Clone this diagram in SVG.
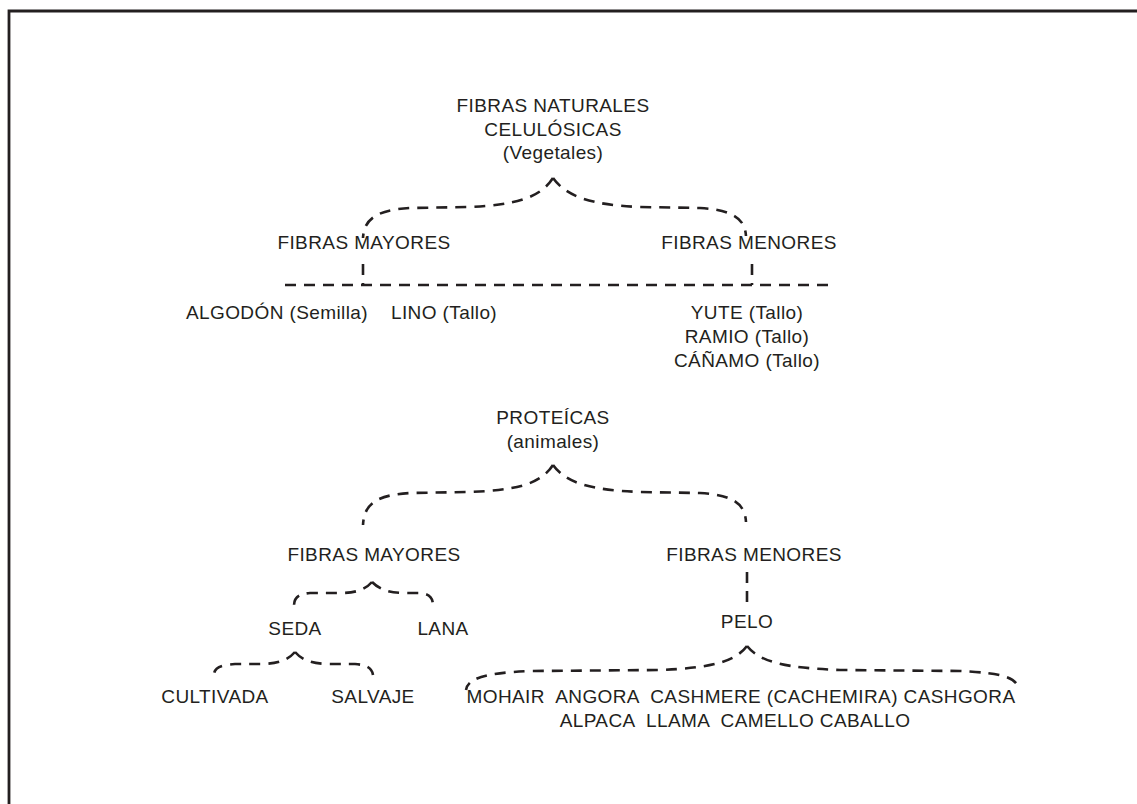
<svg xmlns="http://www.w3.org/2000/svg" width="1137" height="804" viewBox="0 0 1137 804">
<style>
text{font-family:"Liberation Sans",Arial,sans-serif;font-size:19px;fill:#231f20;text-anchor:middle;letter-spacing:0.4px}
.d{fill:none;stroke:#231f20;stroke-width:2.6;stroke-dasharray:11 8}
.frame{fill:none;stroke:#231f20;stroke-width:2.8}
</style>
<rect width="1137" height="804" fill="#fff"/>
<path class="frame" d="M9,804 V11 H1137"/>
<g id="connectors">
<path class="d" d="M553,178 C540,198 515,205 470,207 L410,208 C375,210 364,220 363,238"/>
<path class="d" d="M553,178 C566,196 590,205 640,207 L700,208 C735,210 745,220 746,236"/>
<path class="d" d="M285,285 H836"/>
<path class="d" d="M363,264 V285"/>
<path class="d" d="M752,264 V285"/>
<path class="d" d="M553,465 C540,485 515,490 470,492 L410,493 C375,495 364,505 363,525"/>
<path class="d" d="M553,465 C566,483 590,490 640,492 L700,493 C735,495 745,505 746,522"/>
<path class="d" d="M747,572 V602"/>
<path class="d" d="M372,582 C365,590 355,593 340,593 L310,593 C298,594 294,598 294,606"/>
<path class="d" d="M372,582 C380,590 390,593 405,593 L420,593 C430,594 433,598 433,606"/>
<path class="d" d="M295,652 C288,660 278,664 260,664 L235,664 C220,665 214,668 214,675"/>
<path class="d" d="M295,652 C302,660 312,664 330,664 L355,664 C367,665 372,668 373,675"/>
<path class="d" d="M747,646 C735,662 710,668 660,670 L530,671 C485,673 468,678 466,690"/>
<path class="d" d="M747,646 C760,662 785,668 840,670 L960,671 C1005,673 1017,678 1019,690"/>
</g>
<g id="n-fibras-naturales"><text x="553" y="112">FIBRAS NATURALES</text><text x="553" y="136">CELULÓSICAS</text><text x="553" y="159">(Vegetales)</text></g>
<g id="n-mayores-cel"><text x="364" y="249">FIBRAS MAYORES</text></g>
<g id="n-menores-cel"><text x="749" y="249">FIBRAS MENORES</text></g>
<g id="n-algodon"><text x="277" y="319">ALGODÓN (Semilla)</text></g>
<g id="n-lino"><text x="444" y="319">LINO (Tallo)</text></g>
<g id="n-yute"><text x="747" y="319">YUTE (Tallo)</text><text x="747" y="343">RAMIO (Tallo)</text><text x="747" y="367">CÁÑAMO (Tallo)</text></g>
<g id="n-proteicas"><text x="553" y="424">PROTEÍCAS</text><text x="553" y="448">(animales)</text></g>
<g id="n-mayores-prot"><text x="374" y="561">FIBRAS MAYORES</text></g>
<g id="n-menores-prot"><text x="754" y="561">FIBRAS MENORES</text></g>
<g id="n-seda"><text x="295" y="635">SEDA</text></g>
<g id="n-lana"><text x="443" y="635">LANA</text></g>
<g id="n-pelo"><text x="747" y="628">PELO</text></g>
<g id="n-cultivada"><text x="215" y="703">CULTIVADA</text></g>
<g id="n-salvaje"><text x="373" y="703">SALVAJE</text></g>
<g id="n-pelo-list"><text x="741" y="703" xml:space="preserve">MOHAIR  ANGORA  CASHMERE (CACHEMIRA) CASHGORA</text><text x="735" y="727" xml:space="preserve">ALPACA  LLAMA  CAMELLO CABALLO</text></g>
</svg>
